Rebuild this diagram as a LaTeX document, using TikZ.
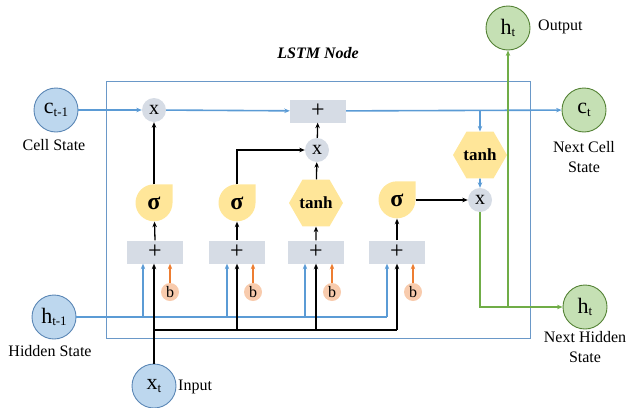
\documentclass[tikz,border=0pt]{standalone}
\usepackage{fontspec}
\setmainfont{Liberation Serif}
\usetikzlibrary{shapes.geometric,arrows.meta,backgrounds}
\definecolor{bfill}{HTML}{BDD7EE}
\definecolor{bdraw}{HTML}{5A86B5}
\definecolor{gfill}{HTML}{C5E0B4}
\definecolor{gdraw}{HTML}{548235}
\definecolor{grayc}{HTML}{D6DCE5}
\definecolor{yelc}{HTML}{FFE699}
\definecolor{peach}{HTML}{F8CBAD}
\definecolor{lblue}{HTML}{5B9BD5}
\definecolor{lgreen}{HTML}{70AD47}
\definecolor{orng}{HTML}{ED7D31}
\definecolor{boxc}{HTML}{6A98C8}
\newcommand\lbl[2]{{\fontsize{22}{22}\selectfont #1}\raisebox{-2.5pt}{\fontsize{13}{13}\selectfont #2}}
\tikzset{
  tip/.style={-{Stealth[length=5.5pt,width=4.5pt]}},
  bline/.style={draw=lblue,line width=1.6pt},
  kline/.style={draw=black,line width=1.3pt},
  gline/.style={draw=lgreen,line width=1.6pt},
  oline/.style={draw=orng,line width=1.3pt},
  bstate/.style={circle,draw=bdraw,fill=bfill,line width=0.9pt,minimum size=44pt,inner sep=0pt},
  gstate/.style={circle,draw=gdraw,fill=gfill,line width=0.9pt,minimum size=44pt,inner sep=0pt},
  mult/.style={circle,fill=grayc,minimum size=24pt,inner sep=0pt,font=\fontsize{20}{20}\selectfont},
  addbox/.style={rectangle,fill=grayc,minimum width=56pt,minimum height=23pt,inner sep=0pt,font=\fontsize{24}{24}\selectfont},
  sig/.style={rectangle,minimum size=37pt,inner sep=0pt,font=\fontsize{24}{24}\selectfont\bfseries},
  tanhn/.style={regular polygon,regular polygon sides=6,fill=yelc,minimum size=44pt,inner sep=0pt,font=\fontsize{17}{17}\selectfont\bfseries},
  bias/.style={circle,fill=peach,minimum size=18pt,inner sep=0pt,font=\fontsize{16}{16}\selectfont},
  lab/.style={font=\fontsize{16}{20}\selectfont,align=center,inner sep=0pt}
}
\begin{document}
\begin{tikzpicture}[x=1pt,y=-1pt]
\useasboundingbox (0,0) rectangle (626,407);
% title and outer cell
\node[font=\fontsize{16}{16}\selectfont\bfseries\itshape] (title) at (318,53) {LSTM Node};
\draw[boxc,line width=1pt] (106,81) rectangle (530,338);
% external states
\node[bstate] (cp) at (56,110) {\lbl{c}{t-1}};
\node[lab] (cpl) at (54,145) {Cell State};
\node[bstate] (hp) at (54,317) {\lbl{h}{t-1}};
\node[lab] (hpl) at (50,351) {Hidden State};
\node[bstate] (xt) at (154,386) {\lbl{x}{t}};
\node[lab,anchor=west] (xtl) at (178,387) {Input};
\node[gstate] (ct) at (584,110) {\lbl{c}{t}};
\node[lab] (ctl) at (584,157) {Next Cell\\State};
\node[gstate] (ho) at (508,28) {\lbl{h}{t}};
\node[lab,anchor=west] (hol) at (538,27) {Output};
\node[gstate] (hn) at (585,307) {\lbl{h}{t}};
\node[lab] (hnl) at (585,347) {Next Hidden\\State};
% inner operations
\node[mult] (m1) at (154,110) {x};
\node[mult] (m2) at (317,150) {x};
\node[mult] (m3) at (480,200) {x};
\node[addbox] (a0) at (318,111) {+};
\node[addbox] (a1) at (155,252) {+};
\node[addbox] (a2) at (237,252) {+};
\node[addbox] (a3) at (316,252) {+};
\node[addbox] (a4) at (397,252) {+};
\node[sig] (s1) at (154,203) {σ};
\node[sig] (s2) at (237,203) {σ};
\node[tanhn] (t3) at (316,203) {tanh};
\node[sig] (s4) at (397,200) {σ};
\node[tanhn] (t5) at (480,155) {tanh};
\node[bias] (b1) at (170,292) {b};
\node[bias] (b2) at (253,292) {b};
\node[bias] (b3) at (332,292) {b};
\node[bias] (b4) at (413,292) {b};
\begin{scope}[on background layer]
\foreach \nm in {s1,s2,s4}
  \fill[yelc] (\nm.east) -- (\nm.north east) -- (\nm.north) arc[start angle=90,end angle=360,radius=18.5pt] -- cycle;
\end{scope}
% coordinates for the input buses
\coordinate (hb1) at (143,317);
\coordinate (hb2) at (227,317);
\coordinate (hb3) at (305,317);
\coordinate (hb4) at (387,317);
\coordinate (kj) at (154,330);
% cell state line
\draw[bline,tip] (cp) -- (m1);
\draw[bline,tip] (m1) -- (a0);
\draw[bline,tip] (a0) -- (ct);
\draw[bline,tip] (t5 |- a0) -- (t5);
\draw[bline,tip] (t5) -- (m3);
% hidden state bus
\draw[bline] (hp) -- (hb4);
\foreach \c/\a in {hb1/a1,hb2/a2,hb3/a3,hb4/a4}
  \draw[bline,tip] (\c) -- (\c |- \a.south);
% input bus
\draw[kline,tip] (xt) -- (a1.south -| xt);
\draw[kline] (kj) -- (kj -| a4);
\foreach \a in {a2,a3,a4}
  \draw[kline,tip] (kj -| \a) -- (\a.south);
% biases
\foreach \b/\a in {b1/a1,b2/a2,b3/a3,b4/a4}
  \draw[oline,tip] (\b) -- (\b |- \a.south);
% gates
\foreach \a/\s in {a1/s1,a2/s2,a3/t3,a4/s4}
  \draw[kline,tip] (\a.north) -- (\s);
\draw[kline,tip] (s1) -- (m1);
\draw[kline,tip] (s2.north) |- (m2);
\draw[kline,tip] (t3) -- (m2);
\draw[kline,tip] (m2) -- (a0);
\draw[kline,tip] (s4) -- (m3);
% output
\draw[gline,tip] (m3) |- (hn);
\draw[gline,tip] (ho |- hn) -- (ho);
\end{tikzpicture}
\end{document}
